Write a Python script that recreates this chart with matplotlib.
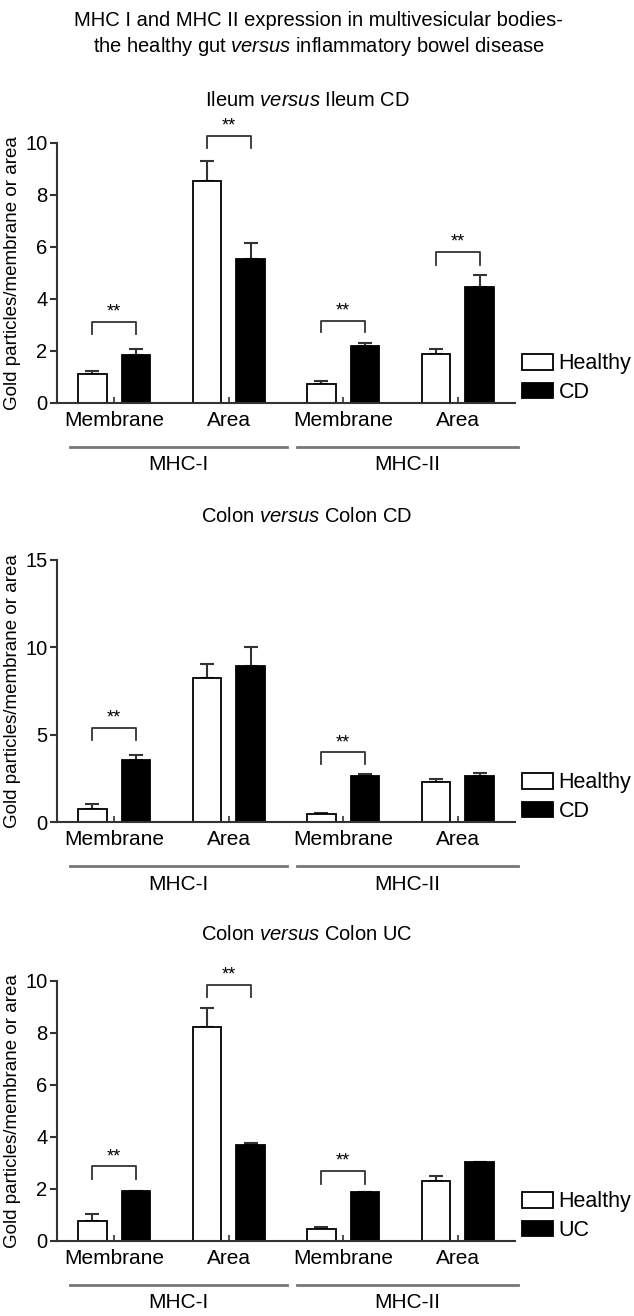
import numpy as np
import matplotlib
matplotlib.use('Agg')
import matplotlib.pyplot as plt
import matplotlib.transforms as mtransforms

plt.rcParams['font.family'] = ['Liberation Sans', 'DejaVu Sans']
plt.rcParams['mathtext.fontset'] = 'custom'
plt.rcParams['mathtext.rm'] = 'Liberation Sans'
plt.rcParams['mathtext.it'] = 'Liberation Sans:italic'

# Данные
categories = ['Membrane', 'Area', 'Membrane', 'Area']
groups = ['MHC-I', 'MHC-II']
titles = [r'Ileum $\mathit{versus}$ Ileum CD',
          r'Colon $\mathit{versus}$ Colon CD',
          r'Colon $\mathit{versus}$ Colon UC']
disease_labels = ['CD', 'CD', 'UC']
ylims = [10, 15, 10]
yticks = [[0, 2, 4, 6, 8, 10], [0, 5, 10, 15], [0, 2, 4, 6, 8, 10]]

healthy = [[1.10, 8.54, 0.72, 1.88],
           [0.77, 8.22, 0.44, 2.29],
           [0.77, 8.23, 0.48, 2.31]]
healthy_err = [[0.14, 0.78, 0.14, 0.20],
               [0.28, 0.80, 0.10, 0.20],
               [0.26, 0.74, 0.06, 0.19]]
disease = [[1.85, 5.55, 2.19, 4.47],
           [3.54, 8.92, 2.62, 2.62],
           [1.92, 3.71, 1.87, 3.04]]
disease_err = [[0.23, 0.59, 0.13, 0.45],
               [0.32, 1.11, 0.13, 0.21],
               [0.02, 0.06, 0.00, 0.00]]

# значимость: (категория, верх скобки, низ ножек)
brackets = [[(0, 3.12, 2.65), (1, 10.28, 9.8), (2, 3.17, 2.73), (3, 5.8, 5.3)],
            [(0, 5.39, 4.68), (2, 3.99, 3.3)],
            [(0, 2.87, 2.4), (1, 9.86, 9.37), (2, 2.69, 2.21)]]

W, H = 634, 1316
fig = plt.figure(figsize=(W / 100, H / 100), dpi=100)

fig.text(0.503, 1 - 21 / H, 'MHC I and MHC II expression in multivesicular bodies-',
         ha='center', va='center', fontsize=14.5)
fig.text(0.503, 1 - 46 / H, r'the healthy gut $\mathit{versus}$ inflammatory bowel disease',
         ha='center', va='center', fontsize=14.5)

axes_px = [(143, 403), (560, 822), (981, 1241)]  # top, bottom in pixels
title_y = [100, 517, 935]
left, right = 57, 515
x = np.arange(4)
off = 0.19
bw = 0.245
grey = '#333333'

for p in range(3):
    top, bot = axes_px[p]
    ax = fig.add_axes([left / W, 1 - bot / H, (right - left) / W, (bot - top) / H])

    b1 = ax.bar(x - off, healthy[p], bw, color='white', edgecolor='black', linewidth=1.3, zorder=2)
    b2 = ax.bar(x + off, disease[p], bw, color='black', edgecolor='black', linewidth=1.3, zorder=2)
    ax.errorbar(x - off, healthy[p], yerr=[np.zeros(4), healthy_err[p]], fmt='none',
                ecolor=grey, elinewidth=1.5, capsize=5, capthick=1.5, zorder=1)
    ax.errorbar(x + off, disease[p], yerr=[np.zeros(4), disease_err[p]], fmt='none',
                ecolor=grey, elinewidth=1.5, capsize=5, capthick=1.5, zorder=1)

    ax.set_xlim(-0.5, 3.5)
    ax.set_ylim(0, ylims[p])
    ax.set_yticks(yticks[p])
    ax.set_xticks(x)
    ax.set_xticklabels(categories)
    ax.tick_params(axis='y', direction='out', length=5, width=1.5, color=grey,
                   labelsize=14.5, pad=2)
    ax.tick_params(axis='x', direction='in', length=4, width=1.2, color=grey,
                   labelsize=15, pad=6)
    for s in ['top', 'right']:
        ax.spines[s].set_visible(False)
    for s in ['left', 'bottom']:
        ax.spines[s].set_color(grey)
        ax.spines[s].set_linewidth(1.5)

    # скобки значимости
    for c, yt, yl in brackets[p]:
        xs = [c - off, c - off, c + off, c + off]
        ax.plot(xs, [yl, yt, yt, yl], color=grey, linewidth=1.3, clip_on=False)
        ax.annotate('**', (c, yt), xytext=(0, 7), textcoords='offset points',
                    ha='center', va='center', fontsize=13, annotation_clip=False)

    # группы MHC-I / MHC-II
    trans = mtransforms.blended_transform_factory(ax.transData, ax.transAxes)
    h = bot - top
    for (x0, x1), g in zip([(-0.386, 1.509), (1.596, 3.526)], groups):
        ax.plot([x0, x1], [-44 / h, -44 / h], color='#777777', linewidth=2,
                transform=trans, clip_on=False)
        ax.text((x0 + x1) / 2, -62 / h, g, transform=trans, ha='center', va='center',
                fontsize=15)

    ax.legend([b1, b2], ['Healthy', disease_labels[p]], loc='lower left',
              bbox_to_anchor=((522 - left) / (right - left), 0.0), frameon=False,
              fontsize=15.5, handlelength=1.45, handleheight=0.75, handletextpad=0.25,
              labelspacing=0.35, borderpad=0, borderaxespad=0)
    fig.text(0.484, 1 - title_y[p] / H, titles[p], ha='center', va='center',
             fontsize=14.5)
    fig.text(13 / W, 1 - (top + bot) / 2 / H, 'Gold particles/membrane or area',
             rotation=90, ha='center', va='center', fontsize=13.5)

fig.savefig('out.png', dpi=100)
